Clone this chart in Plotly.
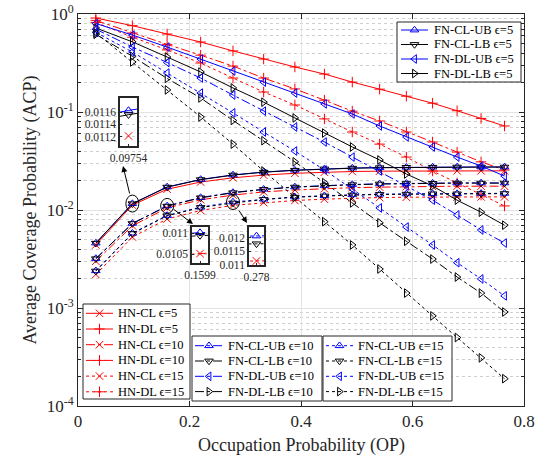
import numpy as np
import plotly.graph_objects as go

# ---------------- data ----------------
x_op = [0.032, 0.09754, 0.1599, 0.220, 0.278, 0.333, 0.389, 0.442, 0.492, 0.541, 0.589, 0.636, 0.680, 0.723, 0.765]

# CL curves (rising)
hn_cl_5 = [0.0044, 0.01121, 0.0163, 0.0193, 0.0213, 0.0227, 0.0237, 0.0243, 0.0247, 0.0249, 0.0250, 0.0251, 0.0251, 0.0251, 0.0251]
fn_cl_ub_5 = [0.0046, 0.01163, 0.0172, 0.0205, 0.0228, 0.0244, 0.0255, 0.0263, 0.0268, 0.0271, 0.0273, 0.0274, 0.0275, 0.0275, 0.0275]
fn_cl_lb_5 = [0.00458, 0.01156, 0.0171, 0.0204, 0.0227, 0.0243, 0.0254, 0.0262, 0.0267, 0.0270, 0.0272, 0.0273, 0.0274, 0.0274, 0.0274]

hn_cl_10 = [0.0030, 0.0069, 0.01051, 0.0127, 0.0142, 0.0153, 0.0160, 0.0165, 0.0169, 0.0171, 0.0173, 0.0174, 0.0175, 0.0175, 0.0175]
fn_cl_ub_10 = [0.0032, 0.0073, 0.01101, 0.0134, 0.0151, 0.0163, 0.0172, 0.0178, 0.0182, 0.0185, 0.0187, 0.0188, 0.0189, 0.0189, 0.0189]
fn_cl_lb_10 = [0.00318, 0.00727, 0.01094, 0.0133, 0.0150, 0.0162, 0.0171, 0.0177, 0.0181, 0.0184, 0.0186, 0.0187, 0.0188, 0.0188, 0.0188]

hn_cl_15 = [0.0022, 0.0053, 0.0081, 0.0099, 0.01115, 0.0119, 0.0125, 0.0129, 0.0132, 0.0134, 0.0135, 0.0136, 0.0136, 0.0136, 0.0136]
fn_cl_ub_15 = [0.0024, 0.0058, 0.0088, 0.0107, 0.01207, 0.0129, 0.0136, 0.0140, 0.0143, 0.0145, 0.0146, 0.0147, 0.0147, 0.0148, 0.0148]
fn_cl_lb_15 = [0.00238, 0.00575, 0.00872, 0.0106, 0.01178, 0.0128, 0.0135, 0.0139, 0.0142, 0.0144, 0.0145, 0.0146, 0.0146, 0.0147, 0.0147]

# DL curves (decreasing)
hn_dl_5 = [0.91, 0.76, 0.625, 0.518, 0.42, 0.347, 0.288, 0.244, 0.202, 0.171, 0.145, 0.123, 0.103, 0.086, 0.072]
hn_dl_10 = [0.86, 0.64, 0.49, 0.38, 0.294, 0.222, 0.172, 0.132, 0.102, 0.081, 0.0625, 0.0494, 0.039, 0.031, 0.0256]
hn_dl_15 = [0.82, 0.58, 0.43, 0.316, 0.222, 0.16, 0.118, 0.085, 0.0625, 0.047, 0.0347, 0.025, 0.0189, 0.0142, 0.011]
fn_dl_ub_5 = [0.80, 0.61, 0.46, 0.347, 0.262, 0.202, 0.156, 0.121, 0.0955, 0.072, 0.0556, 0.044, 0.0347, 0.0281, 0.0222]
fn_dl_lb_5 = [0.72, 0.52, 0.364, 0.256, 0.176, 0.126, 0.087, 0.061, 0.044, 0.0324, 0.0233, 0.0176, 0.0126, 0.0095, 0.007]
fn_dl_ub_10 = [0.70, 0.46, 0.32, 0.222, 0.149, 0.102, 0.0703, 0.0494, 0.0347, 0.025, 0.0176, 0.0126, 0.0089, 0.00625, 0.0046]
fn_dl_lb_10 = [0.62, 0.37, 0.22, 0.139, 0.082, 0.051, 0.031, 0.019, 0.0118, 0.0074, 0.0048, 0.00316, 0.00207, 0.00142, 0.00091]
fn_dl_ub_15 = [0.65, 0.41, 0.25, 0.156, 0.098, 0.0625, 0.040, 0.0256, 0.0164, 0.0105, 0.0067, 0.0044, 0.0029, 0.00198, 0.00133]
fn_dl_lb_15 = [0.64, 0.324, 0.168, 0.089, 0.047, 0.025, 0.0135, 0.0076, 0.0044, 0.0025, 0.00142, 0.00083, 0.0005, 0.00031, 0.00019]

y_tickvals = [1e-4, 1e-3, 1e-2, 1e-1, 1]
y_ticktext = ["10<sup>-4</sup>", "10<sup>-3</sup>", "10<sup>-2</sup>", "10<sup>-1</sup>", "10<sup>0</sup>"]
x_tickvals = [0, 0.2, 0.4, 0.6, 0.8]
x_ticktext = ["0", "0.2", "0.4", "0.6", "0.8"]

# ---------------- style ----------------
RED, BLUE, BLACK = "#ff0000", "#0000ff", "#000000"
FONT = "Liberation Serif"
EPS = "\u03f5"

L, R, T, B = 78, 11, 14, 54
W, H = 535, 460
PW, PH = W - L - R, H - T - B


def px(xp):
    return (xp - L) / PW


def py(yp):
    return (H - B - yp) / PH


fig = go.Figure()


def marker_style(color, symbol):
    return dict(symbol=symbol, size=7.5, color=color, line=dict(color=color, width=1))


def add(y, name, color, dash, symbol, xa="x", ya="y"):
    fig.add_trace(go.Scatter(
        x=x_op, y=y, name=name, mode="lines+markers",
        line=dict(color=color, width=1, dash=dash),
        marker=marker_style(color, symbol),
        xaxis=xa, yaxis=ya, showlegend=False))


# (data, name, color, dash, symbol, legend group)
series = [
    (hn_cl_5, f"HN-CL {EPS}=5", RED, "solid", "x-thin", "hn"),
    (hn_dl_5, f"HN-DL {EPS}=5", RED, "solid", "cross-thin", "hn"),
    (hn_cl_10, f"HN-CL {EPS}=10", RED, "dashdot", "x-thin", "hn"),
    (hn_dl_10, f"HN-DL {EPS}=10", RED, "dashdot", "cross-thin", "hn"),
    (hn_cl_15, f"HN-CL {EPS}=15", RED, "dot", "x-thin", "hn"),
    (hn_dl_15, f"HN-DL {EPS}=15", RED, "dot", "cross-thin", "hn"),
    (fn_cl_ub_5, f"FN-CL-UB {EPS}=5", BLUE, "solid", "triangle-up-open", "e5"),
    (fn_cl_lb_5, f"FN-CL-LB {EPS}=5", BLACK, "solid", "triangle-down-open", "e5"),
    (fn_dl_ub_5, f"FN-DL-UB {EPS}=5", BLUE, "solid", "triangle-left-open", "e5"),
    (fn_dl_lb_5, f"FN-DL-LB {EPS}=5", BLACK, "solid", "triangle-right-open", "e5"),
    (fn_cl_ub_10, f"FN-CL-UB {EPS}=10", BLUE, "dashdot", "triangle-up-open", "e10"),
    (fn_cl_lb_10, f"FN-CL-LB {EPS}=10", BLACK, "dashdot", "triangle-down-open", "e10"),
    (fn_dl_ub_10, f"FN-DL-UB {EPS}=10", BLUE, "dashdot", "triangle-left-open", "e10"),
    (fn_dl_lb_10, f"FN-DL-LB {EPS}=10", BLACK, "dashdot", "triangle-right-open", "e10"),
    (fn_cl_ub_15, f"FN-CL-UB {EPS}=15", BLUE, "dot", "triangle-up-open", "e15"),
    (fn_cl_lb_15, f"FN-CL-LB {EPS}=15", BLACK, "dot", "triangle-down-open", "e15"),
    (fn_dl_ub_15, f"FN-DL-UB {EPS}=15", BLUE, "dot", "triangle-left-open", "e15"),
    (fn_dl_lb_15, f"FN-DL-LB {EPS}=15", BLACK, "dot", "triangle-right-open", "e15"),
]
for d, n, c, ds, s, g in series:
    add(d, n, c, ds, s)

# insets: same CL series drawn on zoomed axes
inset_sets = [
    ("x2", "y2", [(fn_cl_ub_5, BLUE, "solid", "triangle-up-open"),
                  (fn_cl_lb_5, BLACK, "solid", "triangle-down-open"),
                  (hn_cl_5, RED, "solid", "x-thin")]),
    ("x3", "y3", [(fn_cl_ub_10, BLUE, "dashdot", "triangle-up-open"),
                  (fn_cl_lb_10, BLACK, "dashdot", "triangle-down-open"),
                  (hn_cl_10, RED, "dashdot", "x-thin")]),
    ("x4", "y4", [(fn_cl_ub_15, BLUE, "dot", "triangle-up-open"),
                  (fn_cl_lb_15, BLACK, "dot", "triangle-down-open"),
                  (hn_cl_15, RED, "dot", "x-thin")]),
]
for xa, ya, lst in inset_sets:
    for y, c, d, s in lst:
        add(y, "", c, d, s, xa=xa, ya=ya)

# ---------------- custom legends (drawn on an invisible overlay axis in plot-fraction units) ----------------
# box (x0, x1, y0, y1) in px, first row y, row step, line x0, x1, text x
legend_boxes = {
    "e5": ((397, 521, 22, 82), 30.0, 14.5, 401, 428, 432),
    "hn": ((83, 190, 304, 399), 313.3, 15.7, 86, 113, 116),
    "e10": ((192, 322, 336, 401), 345.7, 15.3, 195, 223, 226),
    "e15": ((323, 452, 336, 401), 345.7, 15.3, 326, 353, 356),
}
annotations = []
for g, ((bx0, bx1, by0, by1), r0, step, lx0, lx1, tx) in legend_boxes.items():
    fig.add_trace(go.Scatter(
        x=[px(bx0), px(bx1), px(bx1), px(bx0), px(bx0)],
        y=[py(by0), py(by0), py(by1), py(by1), py(by0)],
        mode="lines", fill="toself", fillcolor="white",
        line=dict(color="#262626", width=1), xaxis="x5", yaxis="y5",
        showlegend=False, hoverinfo="skip"))
    items = [s for s in series if s[5] == g]
    for i, (d, n, c, ds, s, _) in enumerate(items):
        ry = r0 + i * step
        fig.add_trace(go.Scatter(
            x=[px(lx0), px((lx0 + lx1) / 2), px(lx1)], y=[py(ry)] * 3,
            mode="lines+markers", line=dict(color=c, width=1, dash=ds),
            marker=dict(marker_style(c, s), opacity=[0, 1, 0]),
            xaxis="x5", yaxis="y5", showlegend=False, hoverinfo="skip"))
        annotations.append(dict(x=px(tx), y=py(ry), xref="paper", yref="paper", text=n,
                                showarrow=False, xanchor="left", yanchor="middle",
                                font=dict(family=FONT, size=12.5, color="black")))

# x-axis title placed exactly below the tick labels
annotations.append(dict(x=0.5, y=py(445), xref="paper", yref="paper",
                        text="Occupation Probability (OP)", showarrow=False,
                        xanchor="center", yanchor="middle",
                        font=dict(family=FONT, size=18, color="#262626")))

# ---------------- layout ----------------
axis_common = dict(showline=True, linecolor="#262626", linewidth=1, mirror="ticks",
                   ticks="inside", tickcolor="#262626", zeroline=False, automargin=False,
                   tickfont=dict(family=FONT, size=17, color="#262626"))

fig.update_layout(
    width=W, height=H,
    margin=dict(l=L, r=R, t=T, b=B, pad=0, autoexpand=False),
    paper_bgcolor="white", plot_bgcolor="white",
    font=dict(family=FONT, color="#262626"),
    showlegend=False,
    xaxis=dict(range=[0, 0.8], tickvals=x_tickvals, ticktext=x_ticktext, ticklen=5,
               showgrid=True, gridcolor="#e3e3e3", gridwidth=1,
               **axis_common),
    yaxis=dict(type="log", range=[-4, 0], tickvals=y_tickvals, ticktext=y_ticktext, ticklen=5,
               showgrid=True, gridcolor="#e3e3e3", gridwidth=1,
               minor=dict(ticks="inside", ticklen=3, tickcolor="#262626", dtick="D1",
                          showgrid=True, gridcolor="#cfcfcf", griddash="dot", gridwidth=1),
               title=dict(text="Average Coverage Probability (ACP)", font=dict(family=FONT, size=18), standoff=5),
               **axis_common),
    xaxis5=dict(overlaying="x", range=[0, 1], visible=False, fixedrange=True),
    yaxis5=dict(overlaying="y", range=[0, 1], visible=False, fixedrange=True),
)

inset_axes = [
    ("xaxis2", "yaxis2", "x2", "y2", x_op[1], [0.011045, 0.011835], [0.0112, 0.0114, 0.0116],
     ["0.0112", "0.0114", "0.0116"], "0.09754", (120, 137, 98, 146)),
    ("xaxis3", "yaxis3", "x3", "y3", x_op[2], [0.010286, 0.011143], [0.0105, 0.011],
     ["0.0105", "0.011"], "0.1599", (192, 208, 227, 263)),
    ("xaxis4", "yaxis4", "x4", "y4", x_op[4], [0.011, 0.0124], [0.011, 0.0115, 0.012],
     ["0.011", "0.0115", "0.012"], "0.278", (249, 264, 227, 265)),
]
small = dict(family=FONT, size=11.5, color="#262626")
for xk, yk, xid, yid, xc, yr, ytv, ytt, xlab, (bx0, bx1, by0, by1) in inset_axes:
    half = 0.00025
    fig.layout[xk] = dict(domain=[px(bx0), px(bx1)], anchor=yid, range=[xc - half, xc + half],
                          tickvals=[xc], ticktext=[xlab], ticklen=2, showgrid=False,
                          showline=True, linecolor="#262626", linewidth=1.5, mirror=True,
                          ticks="inside", tickcolor="#262626", zeroline=False, tickfont=small)
    fig.layout[yk] = dict(domain=[py(by1), py(by0)], anchor=xid, range=yr,
                          tickvals=ytv, ticktext=ytt, ticklen=2,
                          showgrid=True, gridcolor="#d0d0d0", griddash="dot",
                          showline=True, linecolor="#262626", linewidth=1.5, mirror=True,
                          ticks="inside", tickcolor="#262626", zeroline=False, tickfont=small)


# ellipses around the zoomed points
def to_paper(xv, yv):
    return xv / 0.8, (np.log10(yv) + 4) / 4


ell = [(x_op[1], fn_cl_ub_5[1], 6.5, 8.5), (x_op[2], fn_cl_ub_10[2], 6.5, 7.5), (x_op[4], fn_cl_ub_15[4], 6.5, 7.5)]
for xv, yv, rx, ry in ell:
    cx, cy = to_paper(xv, yv)
    fig.add_shape(type="circle", xref="paper", yref="paper", xsizemode="pixel", ysizemode="pixel",
                  xanchor=cx, yanchor=cy, x0=-rx, x1=rx, y0=-ry, y1=ry,
                  line=dict(color="black", width=1))

# arrows (head position in px, tail offset in px)
arrows = [((123, 166), (7, 29)), ((193, 224), (-21, -16)), ((247, 223), (-9, -14))]
for (hx, hy), (ax, ay) in arrows:
    annotations.append(dict(x=px(hx), y=py(hy), xref="paper", yref="paper", ax=ax, ay=ay,
                            showarrow=True, arrowhead=2, arrowsize=1.2, arrowwidth=1,
                            arrowcolor="black", text=""))

for a in annotations:
    fig.add_annotation(**a)

fig.write_html("out.html")
